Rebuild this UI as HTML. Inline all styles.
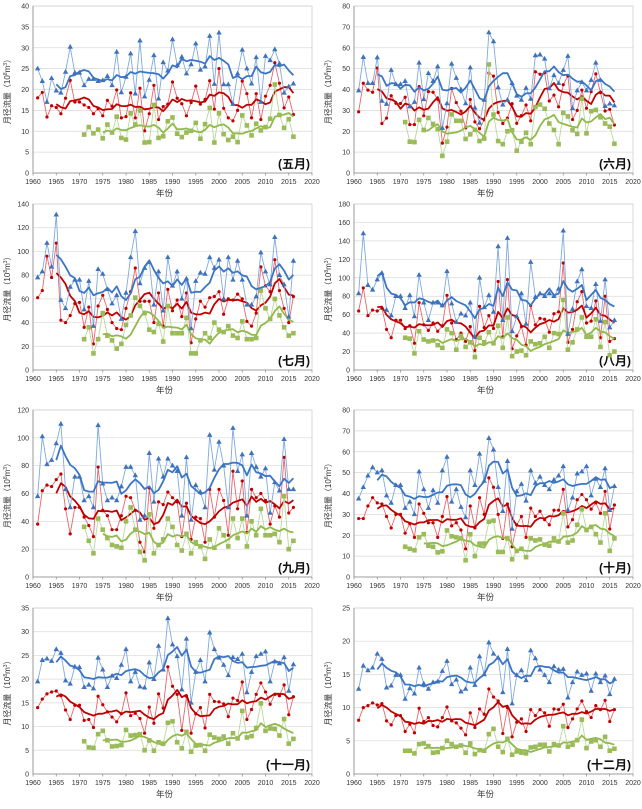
<!DOCTYPE html>
<html><head><meta charset="utf-8">
<style>
html,body{margin:0;padding:0;background:#fff;}
svg{display:block;font-family:"Liberation Sans","Noto Sans CJK SC",sans-serif;}
</style></head>
<body>
<svg id="chart" width="642" height="809" viewBox="0 0 642 809" xmlns="http://www.w3.org/2000/svg"></svg>
<script>
const xTicks = [1960,1965,1970,1975,1980,1985,1990,1995,2000,2005,2010,2015,2020];
const monthLabels = ["(五月)","(六月)","(七月)","(八月)","(九月)","(十月)","(十一月)","(十二月)"];
const yMaxes = [40,80,140,180,120,80,35,25];
const yStepsArr = [5,10,20,20,20,10,5,5];

const mayBlue=[25,22,17,22.7,19.7,19.2,24.2,30.2,24,24,21,22.5,22.5,22,22.2,23.2,21,29,19.3,23,28.6,19,31.7,18.3,22.3,28.2,17.8,26.5,24.5,32,25.8,27.8,23.8,26,31,24.7,25.5,32.8,21.3,33.6,21.2,21.2,16.5,23.8,29.5,25,21.4,27.7,17,28,27,29.6,26.2,19.2,20.7,21.4];
const mayRed=[18,19.3,13.4,16.1,15.7,14.2,17.9,22.2,17,17,16.3,15.7,14.2,15.4,13.7,17.4,16,19.9,13.2,13.5,19.2,13.2,20.3,10.1,14.2,21,12.8,15.9,16.5,21.8,17.9,16.6,13.7,16.9,20.8,16.5,17.6,22.1,15.3,25,15.5,13.2,12.5,15,22,19,13.2,19,12.8,18.4,21,26.4,21.5,15.6,18.2,14];
const mayGreen=[9.2,11,9.5,10.4,8.3,11.6,9.7,13.5,8.4,8,14.3,11.6,15,7.3,7.4,16.3,8.4,8.8,12.4,13.3,9.4,8.6,9.7,10.1,12,8.2,11.7,15.6,7.3,14.3,9.3,7.9,8.7,7.4,13.8,11.4,9,11.8,10.2,11,13,21.2,13.9,10.8,12.9,8.7];

const junBlue=[39.5,55.5,43,43,55.3,34.5,33,49.3,42.5,42.5,44,31.8,34,52.8,35.3,47.8,44,51,21.5,33.3,52.3,45.5,40,33.3,50.5,31.2,24,35,67.3,63,41,32.7,35,43,37,35,40.7,35.5,56.3,56.7,54.7,40.5,46.8,43,49.3,56,31,39.5,43.5,39.5,44.5,52.8,44.5,32,33.2,32.3];
const junRed=[29.3,43,39.7,38.7,50.3,23.7,26.3,37,33.4,33.3,36.3,23.2,23.2,41.4,27.4,39,38.7,35.3,14.3,22,40.5,33.7,29.6,21.6,35.2,24.5,21.2,25.5,47.9,46.4,29,23.7,26.3,33.2,23.8,27.5,32.6,25,48.5,47.3,48,34.5,37.3,31.7,42.3,46.5,25.6,30,39.7,31,39,47.5,38.5,29.7,30.5,23];
const junGreen=[24.4,15,14.8,25.5,20.6,26.4,23.5,21,8.2,15,28.1,25,25,16.3,18.5,20.7,15.3,16.5,52,28,15.3,13.8,20,20.5,10.7,15,19.3,13.8,31.6,32.8,30.8,23.7,20.6,13.8,28.8,27.1,20.5,18.7,35.6,19,29.6,30.2,26.7,23.7,22.2,14];

const julBlue=[78,83,107,87,131,59,52,70,76,76,51,75,37,85,81,68,56,63,43,65,95,117,73,86,91,55,83,50,95,71,83,60,77,35,75,82,81,95,86,93,60,95,76,92,76,55,55,62,99,83,72,112,80,72,45,92];
const julRed=[61,67,96,78,107,42,40,46,56,57,36,53,22,54,63,51,40,35,34,52,66,86,58,58,58,40,65,37,68,50,59,45,65,23,43,58,53,61,62,66,47,60,59,64,60,41,37,48,87,71,66,93,67,52,40,62];
const julGreen=[26,36,14,26,48,29,25,18,22,38,46,61,54,48,34,32,39,24,54,31,31,31,44,14,14,25,31,27,40,34,32,37,29,27,41,26,26,27,67,52,43,60,46,36,29,31];

const augBlue=[83,148,92,87,98,105,65,59,80,80,67,81,58,103,73,54,73,73,70,107,72,52,61,59,73,36,100,68,81,63,134,54,143,42,58,83,50,117,79,83,80,83,80,88,151,39,66,96,109,69,67,93,53,98,46,54];
const augRed=[64,89,59,65,64,67,44,35,54,54,45,48,29,73,49,43,51,42,48,81,51,33,40,31,47,21,69,46,59,45,96,36,98,23,37,47,27,70,49,56,55,41,61,63,116,30,44,74,85,51,53,75,35,80,31,34];
const augGreen=[35,34,18,42,33,31,32,27,24,44,40,22,37,25,30,14,35,30,41,29,48,24,57,15,20,21,16,31,28,29,36,24,40,39,76,22,30,44,57,36,36,55,25,52,16,20];

const sepBlue=[58,101,81,84,96,110,63,50,72,72,55,58,50,109,67,55,57,55,65,79,79,73,41,44,89,54,85,72,85,80,76,44,86,41,66,61,50,102,77,97,80,50,107,76,88,44,89,79,72,78,46,68,62,99,63,63];
const sepRed=[38,62,66,65,70,74,49,31,50,50,43,37,29,79,48,44,34,34,44,58,57,48,25,18,64,35,54,52,61,57,54,29,53,27,43,42,25,63,43,63,55,30,76,49,69,32,63,57,60,55,38,51,43,86,46,50];
const sepGreen=[36,26,17,42,34,28,23,22,21,40,50,34,18,12,45,17,23,27,42,36,23,19,31,17,25,22,13,27,21,35,30,22,42,28,42,22,40,30,49,30,30,31,25,58,20,26];

const octBlue=[37.5,43,48.5,52.5,50,51,39,35.5,44,44,33,36,30,50.5,42,33,41.5,35.5,51,57.5,36,42,33.5,28.5,51,44,59,46,66.5,61,43,31.5,55.5,23,41,44.5,36.5,51,45,48,44,42,46.5,48.5,53,32,38,49.5,50.5,53,39,47,43,52,32,43.5];
const octRed=[28,28,34,38,35.5,35,29,23.5,30,30,21,25.5,19,35,30.5,26,26,19,29,38.5,24.5,26,22.5,13.5,34,23.5,38,30,47.5,43,30,18.5,35,14.5,25,29,19,33,29,31.5,27.5,25,32,32,42,24,27.5,37,39.5,37,32.5,35.5,30.5,41,23,34.5];
const octGreen=[14.5,13.5,12.8,19,20.5,15,14.5,11.8,12.3,22.3,19.5,19,18.5,8,20.5,10,16,16,26.5,27,12,12,18.5,8.5,12.5,13.5,9.5,18.5,17.5,18,15.5,15,18.5,17,30.5,16.5,17.5,25,32.5,22.5,24,20.5,16.5,30.5,12.5,18.5];

const novBlue=[19.5,24,24.3,23.8,26.3,25.5,19.7,19,22.6,22.5,18.3,18.8,18,24.5,22,18.3,20.7,20.2,23,26.3,19.5,21.5,18.4,18.2,23.5,20,27,22,32.8,27.3,24.8,17.8,28.5,15,21.5,24,19.5,29.8,26.3,24.5,23,20.8,24.6,24.2,25.3,17.2,21.5,24.8,25.3,25.8,19.5,23.7,23.3,24.6,17.5,23.1];
const novRed=[14,15.8,16.9,17.3,17.5,16.5,13.5,11.5,14.5,14.5,11.3,11.5,9.8,16.4,14.6,13.1,12,11,12.7,17.1,12.3,12.8,11.7,8.6,14.1,10.7,16.9,13.9,22.6,18.5,16.8,9.2,16.4,8.6,12.7,14,9.7,16.8,15.3,15.2,14.8,12.1,16,15.5,19.4,11.5,13.6,16.8,19.2,17.3,14.7,16.8,16.5,18.8,12.5,16.3];
const novGreen=[6.9,5.6,5.5,8.4,9.1,7.1,5.8,5.9,6.1,9.3,8.1,8.2,8.4,5,7.1,4.9,6.7,6.4,10.8,11.1,6.7,5.4,8.9,4.7,6,6.1,4.9,8.3,7.7,7.4,7.9,6.4,8.6,7.5,13.3,7.7,8,9.7,14.9,9.1,9.6,9.5,8.1,11.6,6.4,7.4];

const decBlue=[12.8,16.3,15.6,16,18.1,17.3,13,13.3,14.9,14.9,11.3,12.9,12.1,16,13.6,12.8,13.8,13.9,15.5,17,13.5,14.2,12.4,12.8,16,13.4,17.7,15,19.8,18.1,17.5,12.3,18.8,10.6,14.9,15.6,14.1,18.6,17.4,15.7,14.9,13.8,16.2,15.7,15.8,11.5,13.8,15.4,14.9,15.1,12.5,15.1,13.8,14.8,12,14.3];
const decRed=[8.1,10,10.3,10.7,10.4,10.6,8,7.4,8.8,8.8,6.4,7.5,6.2,9.9,7.9,8.5,7.3,7.1,8.5,10.1,8,7.7,6.9,5.9,9.2,7,9.8,9,12.8,11.6,11,6.1,10,5.6,7.8,8.3,6.4,9.7,8.8,9.7,9.2,7.2,9.8,9.7,10.5,7,8.3,9.8,11,9.4,8.5,10.3,9.7,11.1,7.9,9.7];
const decGreen=[3.5,3.5,3.1,4.5,4.6,4.2,3.2,3.3,3.9,5,4.5,4.1,4.3,3.2,4.6,3,3.6,3.5,6,6.8,4.1,3.3,5.3,2.9,3.4,3.2,3.1,4,4.1,4.4,4.4,3.4,4.5,4.3,7.2,4.1,4.4,5.1,8.2,3.9,4.9,5.1,4.1,5.6,3.5,3.8];

const blueStart = 1961, redStart = 1961, greenStart = 1971;

const panelsData = [
  [mayBlue,mayRed,mayGreen],[junBlue,junRed,junGreen],
  [julBlue,julRed,julGreen],[augBlue,augRed,augGreen],
  [sepBlue,sepRed,sepGreen],[octBlue,octRed,octGreen],
  [novBlue,novRed,novGreen],[decBlue,decRed,decGreen]
];
const NS="http://www.w3.org/2000/svg";
const svg=document.getElementById('chart');
const rowTops=[6,204,410,608], rowBots=[173,370,577,774];

function mk(tag, attrs, parent){
  const e=document.createElementNS(NS,tag);
  for(const k in attrs) e.setAttribute(k,attrs[k]);
  parent.appendChild(e); return e;
}
function movAvg(arr){
  const out=[];
  for(let i=4;i<arr.length;i++){let s=0;for(let j=i-4;j<=i;j++)s+=arr[j];out.push([i,s/5]);}
  return out;
}

panelsData.forEach((pd,pi)=>{
  const col=pi%2,row=Math.floor(pi/2);
  const ox=col*321;
  const L=ox+33,R=ox+312,T=rowTops[row],B=rowBots[row];
  const yMax=yMaxes[pi],yStep=yStepsArr[pi];
  const xS=v=>L+(v-1960)/60*(R-L);
  const yS=v=>B-v/yMax*(B-T);
  const g=mk('g',{},svg);
  
  
  // grid
  for(let v=0;v<=yMax+1e-9;v+=yStep){
    const y=yS(v);
    if(v>0){const gl=mk('line',{x1:L,x2:R,y1:y,y2:y,stroke:'#d9d9d9','stroke-width':0.7},g);
      }
    const t=mk('text',{x:L-4,y:y+2.5,'font-size':7,'text-anchor':'end',fill:'#333'},g);
    
    t.textContent=v;
  }
  const fr=mk('rect',{x:L,y:T,width:R-L,height:B-T,fill:'none',stroke:'#d0d0d0','stroke-width':0.8},g);
  
  const ax=mk('path',{d:`M${L},${T}V${B}H${R}`,fill:'none',stroke:'#888','stroke-width':0.8},g);
  
  xTicks.forEach(v=>{
    const x=xS(v);
    mk('line',{x1:x,x2:x,y1:B,y2:B+2.5,stroke:'#888','stroke-width':0.7},g);
    const t=mk('text',{x:x,y:B+11,'font-size':7,'text-anchor':'middle',fill:'#333'},g);
    
    t.textContent=v;
  });
  const xt=mk('text',{x:(L+R)/2-8,y:B+23,'font-size':8.5,'text-anchor':'middle',fill:'#333'},g);
  
  xt.textContent='年份';
  const cy=(T+B)/2;
  const yt=mk('text',{x:ox+10,y:cy,'font-size':8,'text-anchor':'middle',fill:'#333',transform:`rotate(-90 ${ox+10} ${cy})`},g);
  
  yt.innerHTML='月径流量（10<tspan font-size="5" dy="-3">8</tspan><tspan dy="3">m</tspan><tspan font-size="5" dy="-3">3</tspan><tspan dy="3">）</tspan>';
  const ml=mk('text',{x:R-2,y:B-5,'font-size':12,'font-weight':'bold','text-anchor':'end',fill:'#111'},g);
  
  ml.textContent=monthLabels[pi];

  const styles=[
    {arr:pd[1],start:redStart,thin:'#e8666a',mark:'#c00000',smooth:'#c00000',shape:'circle',name:'red-series'},
    {arr:pd[2],start:greenStart,thin:'#b9d89a',mark:'#9bbb59',smooth:'#8fba4a',shape:'square',name:'green-series'},
    {arr:pd[0],start:blueStart,thin:'#7fa9df',mark:'#3f72bd',smooth:'#3a76c4',shape:'tri',name:'blue-series'}
  ];
  styles.forEach(s=>{
    const pts=s.arr.map((v,i)=>[xS(s.start+i),yS(v)]);
    const ln=mk('polyline',{points:pts.map(p=>p[0].toFixed(1)+','+p[1].toFixed(1)).join(' '),fill:'none',stroke:s.thin,'stroke-width':0.9},g);
    
    const ma=movAvg(s.arr).map(([i,v])=>[xS(s.start+i),yS(v)]);
    const sm=mk('polyline',{points:ma.map(p=>p[0].toFixed(1)+','+p[1].toFixed(1)).join(' '),fill:'none',stroke:s.smooth,'stroke-width':1.8,'stroke-linejoin':'round'},g);
    
    pts.forEach(([x,y])=>{
      let m;
      if(s.shape==='circle') m=mk('circle',{cx:x,cy:y,r:1.6,fill:s.mark},g);
      else if(s.shape==='square') m=mk('rect',{x:x-2.3,y:y-2.3,width:4.6,height:4.6,fill:s.mark},g);
      else m=mk('path',{d:`M${x},${y-3}L${x+2.7},${y+1.8}L${x-2.7},${y+1.8}Z`,fill:s.mark},g);
      
      
    });
  });
});
</script>
</body></html>
